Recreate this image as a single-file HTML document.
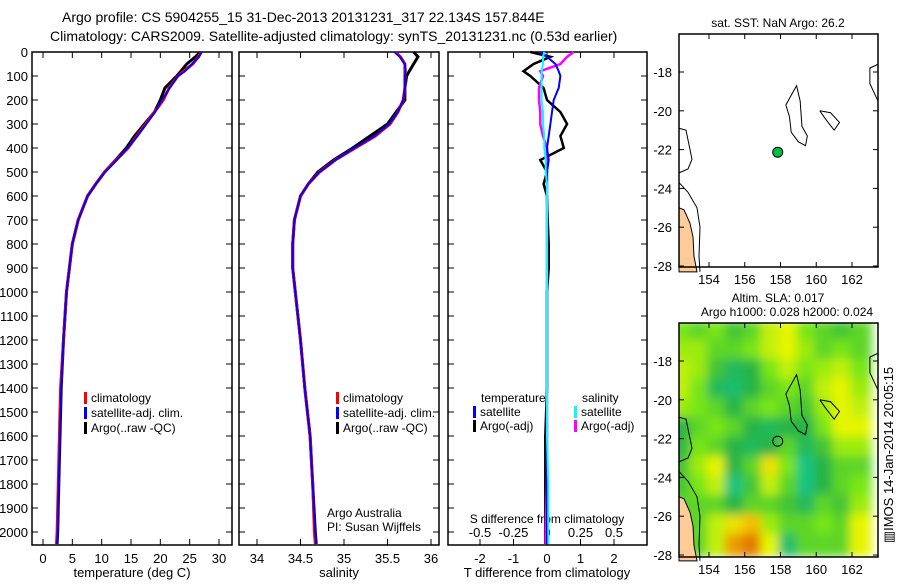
<!DOCTYPE html>
<html><head><meta charset="utf-8"><style>
body{margin:0;background:#fff}
svg text{font-family:"Liberation Sans",sans-serif;fill:#000}
</style></head><body>
<svg id="s" width="900" height="580" xmlns="http://www.w3.org/2000/svg">
<rect width="900" height="580" fill="#fff"/>
<text x="62" y="22" font-size="14">Argo profile: CS 5904255_15 31-Dec-2013 20131231_317 22.134S 157.844E</text>
<text x="50" y="41" font-size="14">Climatology: CARS2009. Satellite-adjusted climatology: synTS_20131231.nc (0.53d earlier)</text>
<g id="g"></g>
<text transform="translate(893,455) rotate(-90)" font-size="13" text-anchor="middle">▥IMOS 14-Jan-2014 20:05:15</text>
</svg>
<script>
// ---- data ----
const depths=[0,20,50,80,100,150,200,250,300,350,400,450,500,550,600,700,800,900,1000,1200,1400,1600,1800,2000,2050];
const tempClim=[27,26.5,25.5,24,23,21.5,20.5,19,17.5,16,14.5,12.5,10.5,9,7.6,6,5,4.5,4,3.5,3,2.8,2.6,2.4,2.3];
const tempSat=[27,26.6,25.4,24.2,23,21.6,20.3,19.1,17.6,16.1,14.4,12.6,10.6,9,7.6,6,5,4.5,4,3.5,3.1,2.9,2.7,2.5,2.4];
const tempArgo=[26.8,26,24.5,23.5,22.8,20.8,20,19,17.3,15.6,14.2,12.4,10.5,9,7.6,6,5,4.5,4,3.5,3.1,2.9,2.7,2.5,2.4];
const salClim=[35.59,35.65,35.7,35.7,35.7,35.7,35.68,35.62,35.53,35.36,35.13,34.9,34.72,34.59,34.5,34.43,34.41,34.41,34.44,34.5,34.55,34.61,34.64,34.66,34.67];
const salSat=[35.58,35.64,35.7,35.71,35.7,35.7,35.68,35.62,35.52,35.35,35.12,34.9,34.72,34.59,34.5,34.43,34.41,34.41,34.44,34.5,34.55,34.61,34.64,34.67,34.68];
const salArgo=[35.8,35.85,35.8,35.75,35.72,35.7,35.7,35.6,35.5,35.3,35.1,34.88,34.7,34.59,34.5,34.43,34.41,34.41,34.44,34.5,34.55,34.61,34.64,34.67,34.68];
const dTsat=[-0.2,0,0.25,0.35,0.4,0.35,0.2,0.15,0.1,0.05,0,0.05,0,0,0,0,0,0,0,0,0,0,0,0,0];
const dTargo=[-0.5,0.1,-0.4,-0.7,-0.5,-0.1,0,0.4,0.6,0.4,0.5,-0.2,0,-0.1,0,0.02,0.05,0.05,0,0,0,-0.05,-0.05,-0.05,-0.05];
const dSsat=[-0.02,-0.03,-0.03,-0.04,-0.04,-0.04,-0.04,-0.03,-0.03,-0.02,-0.02,-0.01,-0.01,0,0,0,0,0,0,0,0,0,0.01,0.01,0.01];
const dSargo=[0.2,0.15,0.1,-0.05,-0.03,-0.06,-0.06,-0.05,-0.05,-0.03,0,0,0,0,0,0,0,0,0,0,0,0,0,-0.01,-0.01];
const tempTicks=[0,5,10,15,20,25,30];
const salTicks=[34,34.5,35,35.5,36];
const dTTicks=[-2,-1,0,1,2];
const dSTicks=[-0.5,-0.25,0,0.25,0.5];
const depthTicks=[0,100,200,300,400,500,600,700,800,900,1000,1100,1200,1300,1400,1500,1600,1700,1800,1900,2000];
const latTicks=[-18,-20,-22,-24,-26,-28];
const lonTicks=[154,156,158,160,162];
const slaGrid=[
[.35,.3,.35,.25,.3,.45,.5,.35,.3,.25,.3],
[.4,.4,.3,.3,.35,.45,.5,.4,.3,.35,.3],
[.45,.4,.25,.15,.2,.35,.45,.35,.4,.45,.35],
[.45,.35,.15,.1,.2,.3,.35,.3,.45,.5,.4],
[.4,.35,.3,.2,.3,.35,.3,.25,.4,.5,.45],
[.2,.3,.35,.3,.2,.15,.2,.2,.35,.5,.5],
[.2,.35,.3,.2,.15,.2,.3,.15,.25,.4,.4],
[.25,.4,.5,.2,.3,.55,.35,.05,.2,.3,.3],
[.25,.35,.45,.05,.25,.45,.3,.05,.2,.3,.35],
[.3,.3,.3,.2,.3,.3,.25,.15,.3,.25,.4],
[.3,.3,.45,.55,.65,.4,.3,.3,.35,.3,.5],
[.3,.3,.45,.75,.85,.5,.1,.3,.3,.3,.5]];
const argoLon=157.844, argoLat=-22.134;

const NS="http://www.w3.org/2000/svg",G=document.getElementById('g');
function el(t,a,p){const e=document.createElementNS(NS,t);for(const k in a)e.setAttribute(k,a[k]);(p||G).appendChild(e);return e;}
const yD=d=>52+d*0.24;
function lin(v0,p0,v1,p1){return v=>p0+(v-v0)*(p1-p0)/(v1-v0);}
function panel(x0,x1,name){const r=el('rect',{x:x0,y:52,width:x1-x0,height:493,fill:'none',stroke:'#000','stroke-width':1.5});}
function xt(xs,ticks,y,labY,fmt,top){ticks.forEach(t=>{const x=xs(t);el('line',{x1:x,x2:x,y1:545,y2:539,stroke:'#000'});if(top!==false)el('line',{x1:x,x2:x,y1:52,y2:58,stroke:'#000'});const tx=el('text',{x:x,y:labY,'font-size':13,'text-anchor':'middle'});tx.textContent=fmt?fmt(t):t;});}
function line(xs,vals,col,w,name){const p=el('polyline',{points:depths.map((d,i)=>xs(vals[i]).toFixed(1)+','+yD(d).toFixed(1)).join(' '),fill:'none',stroke:col,'stroke-width':w});}
function txt(x,y,s,fs,name,anchor){const t=el('text',{x:x,y:y,'font-size':fs,'text-anchor':anchor||'start'});t.textContent=s;return t;}
function leg(x,y,col,label){el('rect',{x:x,y:y-10,width:3,height:12,fill:col});txt(x+7,y,label,12,'legend-entry');}

// panel 1
const xT=lin(0,43,30,219);
panel(32,232,'temperature-panel');
depthTicks.forEach(d=>{const y=yD(d);el('line',{x1:32,x2:38,y1:y,y2:y,stroke:'#000'});el('line',{x1:226,x2:232,y1:y,y2:y,stroke:'#000'});el('line',{x1:239,x2:245,y1:y,y2:y,stroke:'#000'});el('line',{x1:433,x2:439,y1:y,y2:y,stroke:'#000'});el('line',{x1:448,x2:454,y1:y,y2:y,stroke:'#000'});el('line',{x1:641,x2:647,y1:y,y2:y,stroke:'#000'});txt(28,y+5,String(d),13,'y-tick-label','end');});
xt(xT,tempTicks,0,563);
txt(132,577,'temperature (deg C)',13,'x-axis-title','middle');
line(xT,tempArgo,'#000',3,'temp-argo-line');
line(xT,tempClim,'#f00',3,'temp-clim-line');
line(xT,tempSat,'#00f',2,'temp-sat-line');
leg(84,402,'#f00','climatology');leg(84,417,'#00f','satellite-adj. clim.');leg(84,432,'#000','Argo(..raw -QC)');

// panel 2
const xS=lin(34,257,36,431);
panel(239,439,'salinity-panel');
xt(xS,salTicks,0,563);
txt(339,577,'salinity',13,'x-axis-title','middle');
line(xS,salArgo,'#000',3,'sal-argo-line');
line(xS,salClim,'#f00',3,'sal-clim-line');
line(xS,salSat,'#00f',2,'sal-sat-line');
leg(336,402,'#f00','climatology');leg(336,417,'#00f','satellite-adj. clim.');leg(336,432,'#000','Argo(..raw -QC)');
txt(327,517,'Argo Australia',12,'credit-text');txt(327,531,'PI: Susan Wijffels',12,'credit-text');

// panel 3
const xDT=lin(0,547,1,580.5),xDS=lin(0,547,0.25,580.5);
panel(448,647,'difference-panel');
xt(xDT,dTTicks,0,563);
dSTicks.forEach(t=>txt(xDS(t),537,String(t),13,'s-tick-label','middle'));
txt(547,523,'S difference from climatology',12,'s-axis-title','middle');
txt(547,577,'T difference from climatology',13,'x-axis-title','middle');
line(xDT,dTargo,'#000',2.5,'dT-argo-line');
line(xDS,dSargo,'#f0f',2.5,'dS-argo-line');
line(xDT,dTsat,'#00f',2,'dT-sat-line');
line(xDS,dSsat,'#0ff',2,'dS-sat-line');
txt(481,402,'temperature',12,'legend-title');txt(582,402,'salinity',12,'legend-title');
leg(473,416,'#00f','satellite');leg(473,430,'#000','Argo(-adj)');
leg(574,416,'#0ff','satellite');leg(574,430,'#f0f','Argo(-adj)');

// maps
const xL=lin(154,709,162,852);
function map(y0,yB,withGrid,name){
  const yL=lin(-18,y0+38,-28,y0+232);
  const W=878-679,H=yB-y0;
  if(withGrid){
    const f=el('filter',{id:'bl',x:'-10%',y:'-10%',width:'120%',height:'120%'});el('feGaussianBlur',{stdDeviation:5},f);
    const cl=el('clipPath',{id:'mc'});el('rect',{x:679,y:y0,width:W,height:H},cl);
    const gg=el('g',{'clip-path':'url(#mc)'});const gi=el('g',{filter:'url(#bl)'},gg);
    const stops=[[0,[20,200,150]],[.2,[40,180,70]],[.35,[120,230,20]],[.5,[230,245,0]],[.65,[245,190,0]],[.85,[225,120,0]]];
    function col(v){for(let i=1;i<stops.length;i++)if(v<=stops[i][0]){const a=stops[i-1],b=stops[i],t=(v-a[0])/(b[0]-a[0]);return 'rgb('+a[1].map((c,k)=>Math.round(c+(b[1][k]-c)*t)).join(',')+')';}return 'rgb(225,120,0)';}
    slaGrid.forEach((row,r)=>row.forEach((v,c)=>{const x=xL(152+c),y=yL(-16-r);const e=el('rect',{x:x-2,y:y-2,width:xL(153)-xL(152)+4,height:yL(-17)-yL(-16)+4,fill:col(v)},gi);}));
  }
  el('polygon',{points:[[679,yL(-25)],[684,yL(-25.1)],[690,yL(-25.8)],[693,yL(-26.5)],[694,yL(-27.5)],[697,yL(-28.3)],[679,yL(-28.3)]].map(p=>p.join(',')).join(' '),fill:'#ffcc99',stroke:'#000','stroke-width':1});
  const cs=[[[679,yL(-20.9)],[686,yL(-21)],[690,yL(-22)],[692,yL(-22.5)],[688,yL(-23)],[679,yL(-23.2)]],
   [[679,yL(-23.7)],[688,yL(-24.2)],[697,yL(-25)],[700,yL(-26)],[699,yL(-27.5)],[700,yL(-28.3)]],
   [[xL(158.6),yL(-19.2)],[xL(158.9),yL(-18.7)],[xL(159.1),yL(-19.5)],[xL(159.2),yL(-20.8)],[xL(159.5),yL(-21.3)],[xL(159.4),yL(-21.8)],[xL(159),yL(-21.6)],[xL(158.6),yL(-21.1)],[xL(158.5),yL(-20.3)],[xL(158.3),yL(-19.7)],[xL(158.6),yL(-19.2)]],
   [[xL(160.2),yL(-20)],[xL(160.8),yL(-20.1)],[xL(161.3),yL(-20.6)],[xL(161),yL(-21)],[xL(160.5),yL(-20.4)],[xL(160.2),yL(-20)]],
   [[878,yL(-17.6)],[xL(163),yL(-17.8)],[xL(163),yL(-18.6)],[878,yL(-19.5)]]];
  cs.forEach(c=>el('polyline',{points:c.map(p=>p.join(',')).join(' '),fill:'none',stroke:'#000','stroke-width':1}));
  el('circle',{cx:xL(argoLon),cy:yL(argoLat),r:5,fill:withGrid?'none':'#00c040',stroke:'#000'});
  const r=el('rect',{x:679,y:y0,width:W,height:H,fill:'none',stroke:'#000','stroke-width':1.5});
  latTicks.forEach(t=>{const y=yL(t);el('line',{x1:679,x2:684,y1:y,y2:y,stroke:'#000'});el('line',{x1:873,x2:878,y1:y,y2:y,stroke:'#000'});txt(672,y+5,String(t),13,'lat-tick-label','end');});
  lonTicks.forEach(t=>{const x=xL(t);el('line',{x1:x,x2:x,y1:y0,y2:y0+5,stroke:'#000'});el('line',{x1:x,x2:x,y1:yB,y2:yB-5,stroke:'#000'});txt(x,yB+17,String(t),13,'lon-tick-label','middle');});
}
map(34,267,false,'sst-map');
txt(778,27,'sat. SST: NaN Argo: 26.2',12,'sst-map-title','middle');
map(323,557,true,'sla-map');
txt(778,302,'Altim. SLA: 0.017',12,'sla-map-title','middle');
txt(787,316,'Argo h1000: 0.028 h2000: 0.024',12,'sla-map-subtitle','middle');
</script>
</body></html>
